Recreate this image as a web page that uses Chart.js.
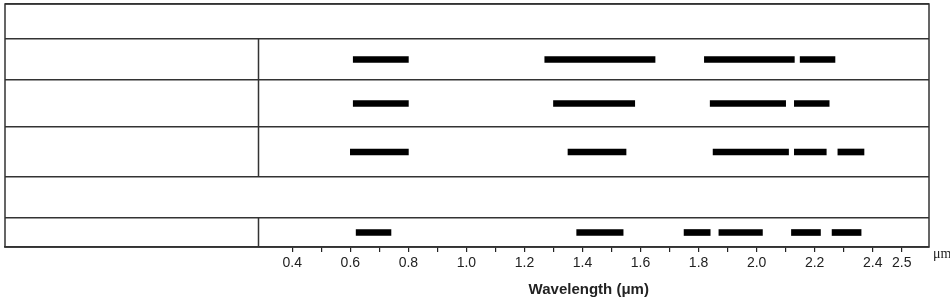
<!DOCTYPE html>
<html>
<head>
<meta charset="utf-8">
<script src="https://cdn.jsdelivr.net/npm/chart.js@4/dist/chart.umd.min.js"></script>
<style>
    html, body { margin: 0; padding: 0; background: #fff; }
    #wrap { width: 950px; height: 300px; position: relative; }
</style>
</head>
<body>
<div id="wrap"><canvas id="bandChart"></canvas></div>
<script>
// Table rows, top to bottom (the left column labels are blank in the source)
var rowNames = ['header', 'row 1', 'row 2', 'row 3', 'gap', 'row 4'];

// Wavelength ranges (um) of the bars in each row
var row1Ranges = [[0.61, 0.80], [1.27, 1.65], [1.82, 2.13], [2.15, 2.27]];
var row2Ranges = [[0.61, 0.80], [1.30, 1.58], [1.84, 2.10], [2.13, 2.25]];
var row3Ranges = [[0.60, 0.80], [1.35, 1.55], [1.85, 2.11], [2.13, 2.24], [2.28, 2.37]];
var row4Ranges = [[0.62, 0.74], [1.38, 1.54], [1.75, 1.84], [1.87, 2.02], [2.12, 2.22], [2.26, 2.36]];

// Axis ticks
var tickValues = [0.4, 0.5, 0.6, 0.7, 0.8, 0.9, 1.0, 1.1, 1.2, 1.3, 1.4, 1.5,
                  1.6, 1.7, 1.8, 1.9, 2.0, 2.1, 2.2, 2.3, 2.4, 2.5];
var tickLabels = ['0.4', '0.6', '0.8', '1.0', '1.2', '1.4', '1.6', '1.8', '2.0', '2.2', '2.4', '2.5'];

// Layout: row heights in pixels, and where the left label column ends
var rowHeights = [35, 41, 47, 50, 41, 29];
var dividerAt = 0.282;
var lineColor = '#333';

var rowEdges = [0];
rowHeights.forEach(function (h) { rowEdges.push(rowEdges[rowEdges.length - 1] + h); });
function rowCenter(name) {
    var i = rowNames.indexOf(name);
    return (rowEdges[i] + rowEdges[i + 1]) / 2;
}

function toPoints(ranges, name) {
    return ranges.map(function (r) { return { x: r, y: rowCenter(name) }; });
}

var points = []
    .concat(toPoints(row1Ranges, 'row 1'))
    .concat(toPoints(row2Ranges, 'row 2'))
    .concat(toPoints(row3Ranges, 'row 3'))
    .concat(toPoints(row4Ranges, 'row 4'));

// Draws the table frame, the column divider, the unit and the axis title
var tableFrame = {
    id: 'tableFrame',
    afterDraw: function (chart) {
        var ctx = chart.ctx;
        var area = chart.chartArea;
        var x = chart.scales.x;
        var y = chart.scales.y;
        ctx.save();
        ctx.strokeStyle = lineColor;
        ctx.lineWidth = 1.5;
        ctx.strokeRect(area.left, area.top, area.right - area.left, area.bottom - area.top);

        var dx = Math.round(x.getPixelForValue(dividerAt)) + 0.5;
        ctx.beginPath();
        rowNames.forEach(function (name, i) {
            if (name === 'header' || name === 'gap') return;
            ctx.moveTo(dx, y.getPixelForValue(rowEdges[i]));
            ctx.lineTo(dx, y.getPixelForValue(rowEdges[i + 1]));
        });
        ctx.stroke();

        ctx.fillStyle = '#222';
        ctx.font = '14px "Liberation Serif"';
        ctx.textAlign = 'left';
        ctx.textBaseline = 'middle';
        ctx.fillText('\u03bcm', area.right + 4, 254);

        ctx.font = 'bold 15px "Liberation Sans"';
        ctx.textAlign = 'center';
        ctx.fillText('Wavelength (\u03bcm)', (dx + area.right) / 2 - 5, 290);
        ctx.restore();
    }
};

var ctx = document.getElementById('bandChart').getContext('2d');
var bandChart = new Chart(ctx, {
    type: 'bar',
    data: {
        datasets: [{
            label: 'Bands',
            data: points,
            backgroundColor: '#000',
            borderWidth: 0,
            barThickness: 6,
            borderSkipped: false
        }]
    },
    options: {
        indexAxis: 'y',
        responsive: true,
        maintainAspectRatio: false,
        animation: false,
        layout: {
            padding: { left: 5, top: 4, right: 21, bottom: 0 }
        },
        scales: {
            x: {
                type: 'linear',
                min: -0.59,
                max: 2.594,
                afterBuildTicks: function (scale) {
                    scale.ticks = tickValues.map(function (v) { return { value: v }; });
                },
                afterFit: function (scale) { scale.height = 53; },
                grid: {
                    drawOnChartArea: false,
                    drawTicks: true,
                    tickLength: 5,
                    color: '#222',
                    lineWidth: 1.2
                },
                border: { display: true, color: lineColor, width: 1.5 },
                ticks: {
                    autoSkip: false,
                    maxRotation: 0,
                    padding: 3,
                    color: '#222',
                    font: { family: 'Liberation Sans', size: 14 },
                    callback: function (value) {
                        var s = value.toFixed(1);
                        return tickLabels.indexOf(s) >= 0 ? s : '';
                    }
                }
            },
            y: {
                type: 'linear',
                reverse: true,
                offset: false,
                min: 0,
                max: rowEdges[rowEdges.length - 1],
                afterBuildTicks: function (scale) {
                    scale.ticks = rowEdges.map(function (v) { return { value: v }; });
                },
                afterFit: function (scale) { scale.width = 0; },
                grid: {
                    offset: false,
                    drawTicks: false,
                    color: lineColor,
                    lineWidth: 1.5
                },
                border: { display: false },
                ticks: { display: false }
            }
        },
        plugins: {
            legend: { display: false },
            tooltip: { enabled: false }
        }
    },
    plugins: [tableFrame]
});
</script>
</body>
</html>
